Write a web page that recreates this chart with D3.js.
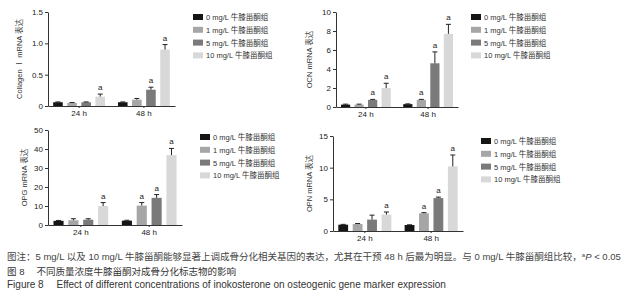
<!DOCTYPE html>
<html>
<head>
<meta charset="utf-8">
<script src="https://cdn.jsdelivr.net/npm/d3@7"></script>
<style>
  body { margin: 0; background: #fff; }
  svg { display: block; }
  text { font-family: "Liberation Sans", Arial, "Noto Sans CJK SC", sans-serif; }
</style>
</head>
<body>
<div id="chart"></div>
<script>
const groups = ["24 h", "48 h"];
const doses = ["0 mg/L 牛膝甾酮组", "1 mg/L 牛膝甾酮组", "5 mg/L 牛膝甾酮组", "10 mg/L 牛膝甾酮组"];
const colors = ["#151515", "#a6a6a6", "#7a7a7a", "#d8d8d8"];

// mean / error (upper SD) / significance "a", one row per time point
const collagenMean = [[0.06, 0.05, 0.06, 0.15], [0.06, 0.10, 0.26, 0.90]];
const collagenErr = [[0.005, 0.005, 0.005, 0.04], [0.005, 0.02, 0.04, 0.08]];
const collagenSig = [[0, 0, 0, 1], [0, 0, 1, 1]];
const collagenTicks = [0, 0.5, 1.0, 1.5];

const ocnMean = [[0.25, 0.25, 0.75, 2.0], [0.3, 0.75, 4.6, 7.7]];
const ocnErr = [[0.05, 0.05, 0.05, 0.5], [0.03, 0.05, 1.2, 1.0]];
const ocnSig = [[0, 0, 1, 1], [0, 1, 1, 1]];
const ocnTicks = [0, 2, 4, 6, 8, 10];

const opgMean = [[2.2, 2.5, 2.8, 10.0], [2.3, 10.2, 14.3, 36.8]];
const opgErr = [[0.2, 0.8, 0.5, 1.8], [0.2, 1.6, 1.7, 3.5]];
const opgSig = [[0, 0, 0, 1], [0, 1, 1, 1]];
const opgTicks = [0, 10, 20, 30, 40, 50];

const opnMean = [[1.0, 1.1, 1.8, 2.6], [0.95, 2.8, 5.2, 10.2]];
const opnErr = [[0.05, 0.08, 0.7, 0.4], [0.03, 0.1, 0.15, 1.8]];
const opnSig = [[0, 0, 0, 1], [0, 1, 1, 1]];
const opnTicks = [0, 5, 10, 15];

const W = 630, H = 300;

const svg = d3.select("#chart")
    .append("svg")
    .attr("width", W)
    .attr("height", H);

const panels = [
    {label: "Collagen Ⅰ mRNA 表达", mean: collagenMean, err: collagenErr, sig: collagenSig, ticks: collagenTicks,
     fmt: d => d === 0 ? "0" : d3.format(".1f")(d),
     x0: 48, x1: 175, y0: 106, y1: 12, labelX: 22, legX: 193, legY: 17},
    {label: "OCN mRNA 表达", mean: ocnMean, err: ocnErr, sig: ocnSig, ticks: ocnTicks,
     fmt: d3.format("d"),
     x0: 336, x1: 458, y0: 107, y1: 12, labelX: 312, legX: 471, legY: 17},
    {label: "OPG mRNA 表达", mean: opgMean, err: opgErr, sig: opgSig, ticks: opgTicks,
     fmt: d3.format("d"),
     x0: 48, x1: 182, y0: 225, y1: 130, labelX: 27, legX: 200, legY: 137},
    {label: "OPN mRNA 表达", mean: opnMean, err: opnErr, sig: opnSig, ticks: opnTicks,
     fmt: d3.format("d"),
     x0: 333, x1: 463, y0: 231, y1: 136, labelX: 312, legX: 481, legY: 141}
];

panels.forEach(drawPanel);
drawCaption();

function drawPanel(p) {
    const g = svg.append("g");

    const y = d3.scaleLinear()
        .domain([0, p.ticks[p.ticks.length - 1]])
        .range([p.y0, p.y1]);

    const x = d3.scaleBand()
        .domain(groups)
        .range([p.x0, p.x1])
        .paddingInner(0.2)
        .paddingOuter(0.08);

    const xs = d3.scaleBand()
        .domain(d3.range(doses.length))
        .range([0, x.bandwidth()])
        .paddingInner(0.32);

    // bars
    groups.forEach((grp, gi) => {
        const rows = doses.map((d, i) => ({
            i: i,
            mean: p.mean[gi][i],
            err: p.err[gi][i],
            sig: p.sig[gi][i]
        }));
        const gg = g.append("g").attr("transform", "translate(" + x(grp) + ",0)");

        gg.selectAll("rect")
            .data(rows)
            .enter().append("rect")
            .attr("x", d => xs(d.i))
            .attr("y", d => y(d.mean))
            .attr("width", xs.bandwidth())
            .attr("height", d => p.y0 - y(d.mean))
            .attr("fill", d => colors[d.i]);

        const eb = gg.selectAll(".eb")
            .data(rows)
            .enter().append("g")
            .attr("class", "eb")
            .attr("transform", d => "translate(" + (xs(d.i) + xs.bandwidth() / 2) + ",0)");

        eb.append("line")
            .attr("y1", d => y(d.mean))
            .attr("y2", d => y(d.mean + d.err))
            .attr("stroke", "#222")
            .attr("stroke-width", 1);

        eb.append("line")
            .attr("x1", -2.5).attr("x2", 2.5)
            .attr("y1", d => y(d.mean + d.err))
            .attr("y2", d => y(d.mean + d.err))
            .attr("stroke", "#222")
            .attr("stroke-width", 1);

        gg.selectAll(".sig")
            .data(rows.filter(d => d.sig))
            .enter().append("text")
            .attr("class", "sig")
            .attr("x", d => xs(d.i) + xs.bandwidth() / 2)
            .attr("y", d => y(d.mean + d.err) - 4)
            .attr("text-anchor", "middle")
            .attr("font-size", "8px")
            .attr("fill", "#222")
            .text("a");
    });

    // y axis
    const ya = g.append("g")
        .attr("transform", "translate(" + p.x0 + ",0)")
        .call(d3.axisLeft(y).tickValues(p.ticks).tickFormat(p.fmt).tickSize(3).tickSizeOuter(0).tickPadding(2));

    // x axis
    const xa = g.append("g")
        .attr("transform", "translate(0," + p.y0 + ")")
        .call(d3.axisBottom(x).tickSize(2).tickSizeOuter(0).tickPadding(2));

    [ya, xa].forEach(a => {
        a.select(".domain").attr("stroke", "#333");
        a.selectAll(".tick line").attr("stroke", "#333");
        a.selectAll(".tick text").attr("fill", "#222").attr("font-size", "8px")
            .attr("font-family", "Liberation Sans, Arial, sans-serif");
    });

    // y label
    g.append("text")
        .attr("transform", "translate(" + p.labelX + "," + ((p.y0 + p.y1) / 2) + ") rotate(-90)")
        .attr("text-anchor", "middle")
        .attr("font-size", "7.5px")
        .attr("fill", "#333")
        .text(p.label);

    // legend
    const leg = g.selectAll(".leg")
        .data(doses)
        .enter().append("g")
        .attr("class", "leg")
        .attr("transform", (d, i) => "translate(" + p.legX + "," + (p.legY + i * 12.8) + ")");

    leg.append("rect")
        .attr("x", 0).attr("y", -3)
        .attr("width", 10).attr("height", 6)
        .attr("fill", (d, i) => colors[i]);

    leg.append("text")
        .attr("x", 13).attr("y", 3)
        .attr("font-size", "7.5px")
        .attr("fill", "#333")
        .text(d => d);
}

function drawCaption() {
    const c1 = svg.append("text")
        .attr("x", 7).attr("y", 259.5)
        .attr("font-size", "9.5px")
        .attr("fill", "#444");
    c1.append("tspan").text("图注：5 mg/L 以及 10 mg/L 牛膝甾酮能够显著上调成骨分化相关基因的表达，尤其在干预 48 h 后最为明显。与 0 mg/L 牛膝甾酮组比较，");
    c1.append("tspan").attr("font-size", "6px").attr("dy", -3).text("a");
    c1.append("tspan").attr("font-style", "italic").attr("dy", 3).text("P");
    c1.append("tspan").text(" < 0.05");

    svg.append("text")
        .attr("x", 7).attr("y", 274.5)
        .attr("font-size", "9.5px")
        .attr("fill", "#333")
        .attr("xml:space", "preserve")
        .text("图 8　 不同质量浓度牛膝甾酮对成骨分化标志物的影响");

    svg.append("text")
        .attr("x", 7).attr("y", 288)
        .attr("font-size", "10px")
        .attr("fill", "#333")
        .attr("xml:space", "preserve")
        .text("Figure 8　 Effect of different concentrations of inokosterone on osteogenic gene marker expression");
}
</script>
</body>
</html>
